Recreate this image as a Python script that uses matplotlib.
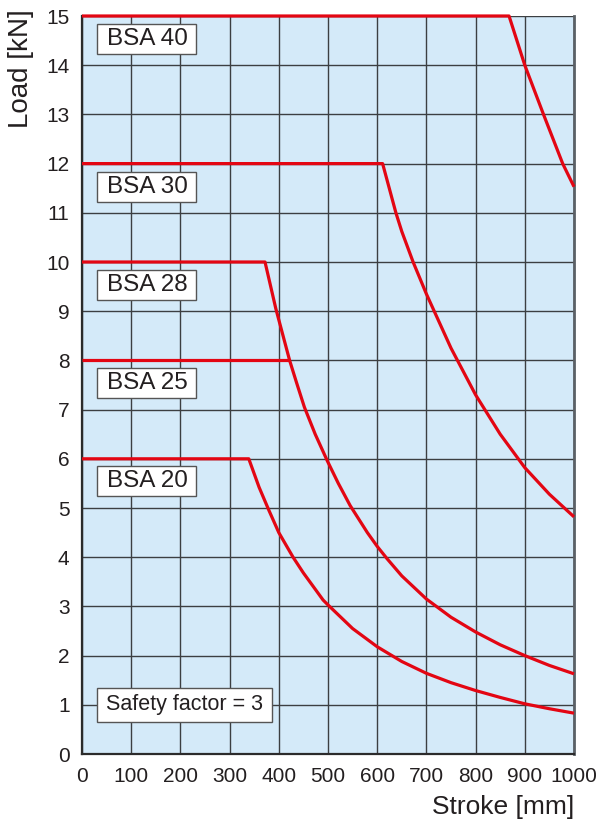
import matplotlib
matplotlib.use("Agg")
import matplotlib.pyplot as plt
from matplotlib.patches import Rectangle

plt.rcParams["font.family"] = ["Liberation Sans", "DejaVu Sans"]

# curves (stroke in mm, load in kN)
bsa40_x = [0, 868, 900, 938, 977, 1000]
bsa40_y = [15, 15, 14, 13, 12, 11.53]

bsa30_x = [0, 611, 638, 650, 673, 700, 750, 800, 850, 900, 950, 1000]
bsa30_y = [12, 12, 11, 10.62, 10, 9.35, 8.25, 7.3, 6.5, 5.82, 5.28, 4.82]

bsa28_x = [0, 372, 394, 422, 436, 452, 474, 499, 521, 545, 580, 600, 620,
           650, 700, 750, 800, 850, 900, 950, 1000]
bsa28_y = [10, 10, 9.05, 8.0, 7.55, 7.05, 6.5, 5.95, 5.5, 5.05, 4.5, 4.22,
           3.97, 3.62, 3.15, 2.78, 2.48, 2.22, 2.0, 1.8, 1.63]

bsa25_x = [0, 422]
bsa25_y = [8, 8]

bsa20_x = [0, 339, 360, 380, 400, 429, 450, 490, 500, 550, 600, 650, 700,
           750, 800, 850, 900, 950, 1000]
bsa20_y = [6, 6, 5.42, 4.95, 4.5, 4.0, 3.68, 3.13, 3.03, 2.55, 2.18, 1.88,
           1.64, 1.45, 1.29, 1.15, 1.02, 0.92, 0.83]

labels = ["BSA 40", "BSA 30", "BSA 28", "BSA 25", "BSA 20"]
label_y = [14.53, 11.52, 9.53, 7.54, 5.55]
note = "Safety factor = 3"

x_ticks = list(range(0, 1001, 100))
y_ticks = list(range(0, 16))

RED = "#e30613"
BG = "#d4eaf9"
TXT = "#231f20"

fig = plt.figure(figsize=(6, 8.27), dpi=100)
ax = fig.add_axes([82 / 600, 1 - 754 / 827, 492 / 600, 738 / 827])
ax.set_facecolor(BG)

ax.set_xlim(0, 1000)
ax.set_ylim(0, 15)
ax.set_xticks(x_ticks)
ax.set_yticks(y_ticks)
ax.tick_params(length=0, pad=9, labelsize=15, colors=TXT)
ax.grid(True, color="#3c3f42", linewidth=1.0)
ax.set_axisbelow(True)

for side in ["left", "bottom"]:
    ax.spines[side].set_color("#2b2b2b")
    ax.spines[side].set_linewidth(1.6)
ax.spines["right"].set_color("#5a6066")
ax.spines["right"].set_linewidth(2.0)
ax.spines["top"].set_visible(False)

for xs, ys in [(bsa40_x, bsa40_y), (bsa30_x, bsa30_y), (bsa28_x, bsa28_y),
               (bsa25_x, bsa25_y), (bsa20_x, bsa20_y)]:
    ax.plot(xs, ys, color=RED, linewidth=2.3, clip_on=False, zorder=3,
            solid_joinstyle="round", solid_capstyle="butt")

# label boxes: ~99 x 30 px
for lab, ly in zip(labels, label_y):
    ax.add_patch(Rectangle((30.5, ly - 0.305), 201, 0.61, facecolor="white",
                           edgecolor="#555555", linewidth=1.0, zorder=4))
    ax.text(132, ly, lab, ha="center", va="center", fontsize=17.5,
            color=TXT, zorder=5)

ax.add_patch(Rectangle((30.5, 0.65), 355.5, 0.69, facecolor="white",
                       edgecolor="#555555", linewidth=1.0, zorder=4))
ax.text(208, 1.0, note, ha="center", va="center", fontsize=15.5,
        color=TXT, zorder=5)

ax.set_xlabel("Stroke [mm]", loc="right", fontsize=19, color=TXT)
ax.xaxis.set_label_coords(1.0, -0.056)
ax.set_ylabel("Load [kN]", loc="top", fontsize=20, color=TXT)
ax.yaxis.set_label_coords(-0.098, 1.009)

fig.savefig("out.png", dpi=100)
